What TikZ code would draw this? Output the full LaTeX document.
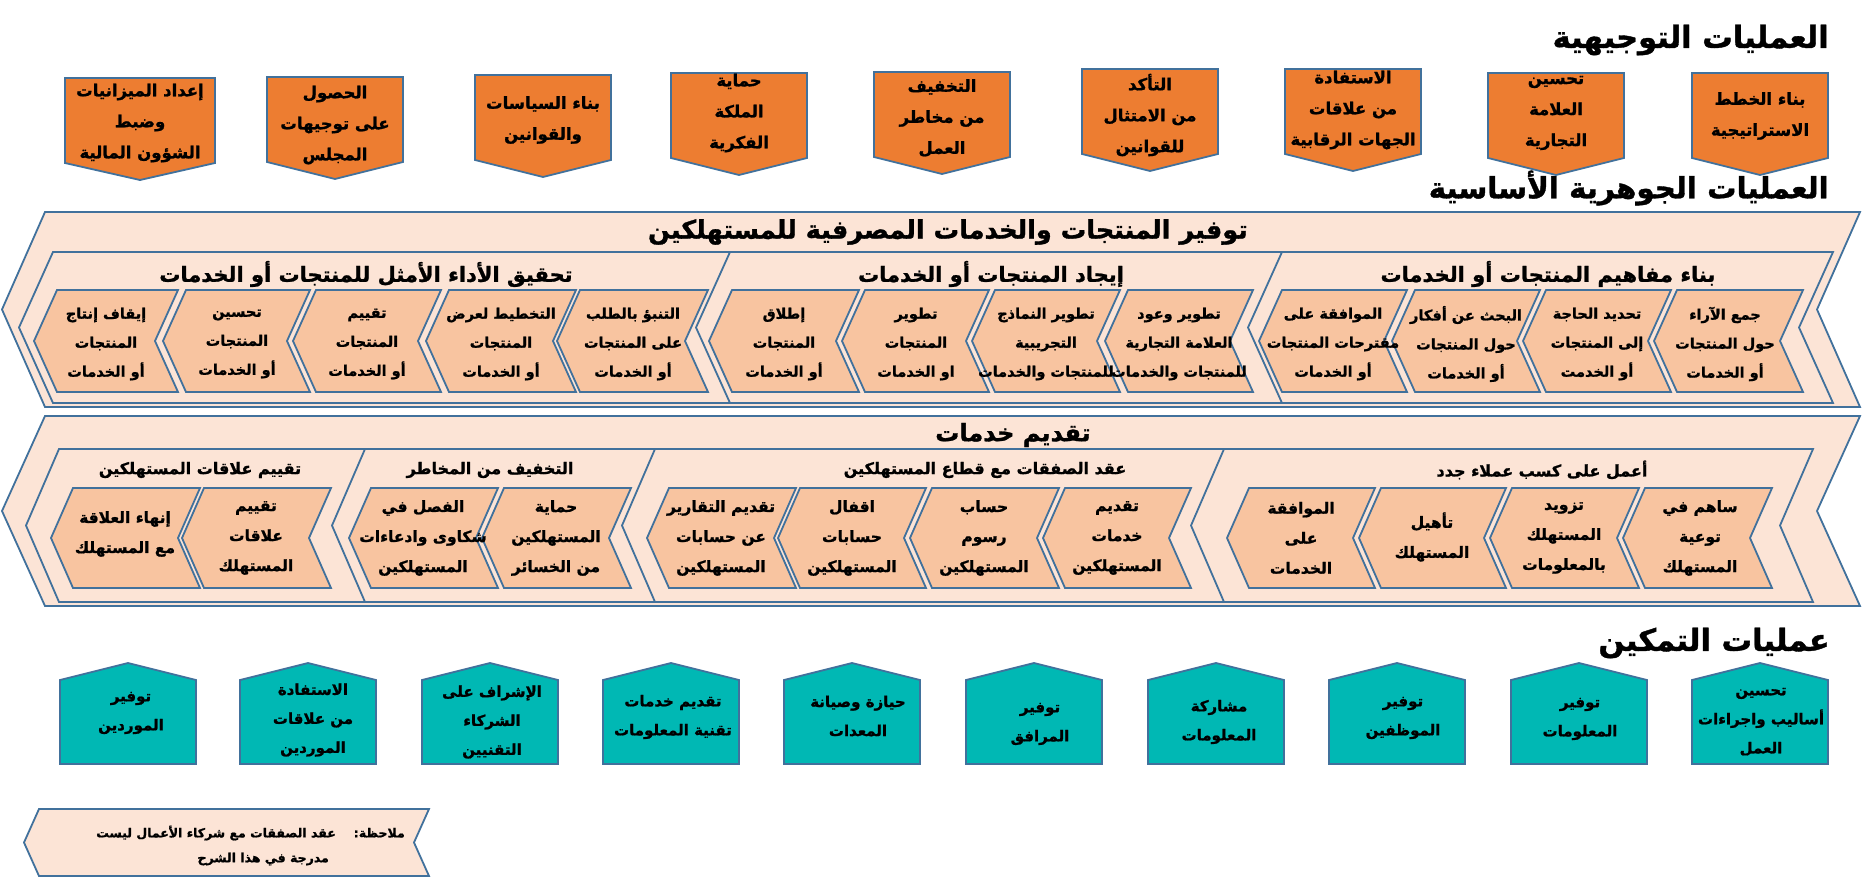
\documentclass[tikz,border=0pt]{standalone}
\usepackage{fontspec}
\newfontfamily\arabicfont[Script=Arabic,BoldFeatures={FakeBold=1.2}]{DejaVu Sans}
\TeXXeTstate=1
\newcommand\AR[1]{{\arabicfont\bfseries\beginR #1\endR}}
\definecolor{bord}{RGB}{65,113,156}
\definecolor{orng}{RGB}{237,125,49}
\definecolor{lpeach}{RGB}{252,228,214}
\definecolor{peach}{RGB}{248,196,160}
\definecolor{tealbox}{RGB}{0,184,180}
% chevron: style, xTL, xTR, ytop, ybot, depth
\newcommand\chev[6]{\path[#1] (#2,#4) -- (#3,#4) -- ({#3-#6},{(#4+#5)/2}) -- (#3,#5) -- (#2,#5) -- ({#2-#6},{(#4+#5)/2}) -- cycle;}
% down pentagon: style, cx, halfwidth, ytop
\newcommand\downbox[4]{\path[#1] ({#2-#3},#4) -- ({#2+#3},#4) -- ({#2+#3},{#4+85}) -- (#2,{#4+102}) -- ({#2-#3},{#4+85}) -- cycle;}
% up pentagon: style, cx
\newcommand\upbox[2]{\path[#1] ({#2-68},764) -- ({#2-68},680) -- (#2,663) -- ({#2+68},680) -- ({#2+68},764) -- cycle;}
\begin{document}
\begin{tikzpicture}[x=1pt,y=-1pt,
  outer/.style={draw=bord,line width=1.8pt,fill=lpeach,line join=miter},
  inner/.style={draw=bord,line width=1.8pt,fill=peach,line join=miter},
  topbox/.style={draw=bord,line width=1.8pt,fill=orng,line join=miter},
  tealb/.style={draw=bord,line width=1.8pt,fill=tealbox,line join=miter},
  bigtitle/.style={inner sep=0pt,font=\fontsize{30.5}{36}\selectfont},
  midtitle/.style={inner sep=0pt,font=\fontsize{29.3}{35}\selectfont},
  maintitle/.style={inner sep=0pt,font=\fontsize{25.5}{30}\selectfont},
  rowtitle/.style={inner sep=0pt,font=\fontsize{24}{30}\selectfont},
  subtitle/.style={inner sep=0pt,font=\fontsize{21}{26}\selectfont},
  smalltitle/.style={inner sep=0pt,font=\fontsize{16}{20}\selectfont},
  toptxt/.style={align=center,inner sep=0pt,font=\fontsize{16.5}{31}\selectfont},
  boxtxt/.style={align=center,inner sep=0pt,font=\fontsize{14.5}{29}\selectfont},
  boxtxtb/.style={align=center,inner sep=0pt,font=\fontsize{15.5}{30}\selectfont},
  tealtxt/.style={align=center,inner sep=0pt,font=\fontsize{15}{29}\selectfont},
  notetxt/.style={inner sep=0pt,font=\fontsize{12.5}{16}\selectfont}]
\useasboundingbox (0,0) rectangle (1862,883);
\fill[white] (0,0) rectangle (1862,883);

% ---------- titles ----------
\node[bigtitle,anchor=east] (t1) at (1829,40) {\AR{العمليات التوجيهية}};
\node[midtitle,anchor=east] (t2) at (1829,188) {\AR{العمليات الجوهرية الأساسية}};
\node[bigtitle,anchor=east] (t3) at (1830,643) {\AR{عمليات التمكين}};

% ---------- top orange boxes ----------
\downbox{topbox}{140}{75}{78}
\downbox{topbox}{335}{68}{77}
\downbox{topbox}{543}{68}{75}
\downbox{topbox}{739}{68}{73}
\downbox{topbox}{942}{68}{72}
\downbox{topbox}{1150}{68}{69}
\downbox{topbox}{1353}{68}{69}
\downbox{topbox}{1556}{68}{73}
\downbox{topbox}{1760}{68}{73}
\node[toptxt] (ob1) at (140,123) {\AR{إعداد الميزانيات}\\\AR{وضبط}\\\AR{الشؤون المالية}};
\node[toptxt] (ob2) at (335,125) {\AR{الحصول}\\\AR{على توجيهات}\\\AR{المجلس}};
\node[toptxt] (ob3) at (543,120) {\AR{بناء السياسات}\\\AR{والقوانين}};
\node[toptxt] (ob4) at (739,113) {\AR{حماية}\\\AR{الملكة}\\\AR{الفكرية}};
\node[toptxt] (ob5) at (942,118) {\AR{التخفيف}\\\AR{من مخاطر}\\\AR{العمل}};
\node[toptxt] (ob6) at (1150,115) {\AR{التأكد}\\\AR{من الامتثال}\\\AR{للقوانين}};
\node[toptxt] (ob7) at (1353,110) {\AR{الاستفادة}\\\AR{من علاقات}\\\AR{الجهات الرقابية}};
\node[toptxt] (ob8) at (1556,113) {\AR{تحسين}\\\AR{العلامة}\\\AR{التجارية}};
\node[toptxt] (ob9) at (1760,116) {\AR{بناء الخطط}\\\AR{الاستراتيجية}};

% ---------- row 1 ----------
\chev{outer}{45}{1860}{212}{407}{43}
\node[maintitle] (r1main) at (948,232) {\AR{توفير المنتجات والخدمات المصرفية للمستهلكين}};
\chev{outer}{53}{760}{252}{403}{34}
\chev{outer}{730}{1310}{252}{403}{34}
\chev{outer}{1282}{1833}{252}{403}{34}
\node[subtitle] (r1s3) at (366,274) {\AR{تحقيق الأداء الأمثل للمنتجات أو الخدمات}};
\node[subtitle] (r1s2) at (991,274) {\AR{إيجاد المنتجات أو الخدمات}};
\node[subtitle] (r1s1) at (1548,274) {\AR{بناء مفاهيم المنتجات أو الخدمات}};
\foreach \a/\b in {57/178,186/310,316/441,449/576,580/708,732/859,865/989,995/1120,1128/1253,1282/1407,1415/1540,1546/1671,1677/1803}
  {\chev{inner}{\a}{\b}{290}{392}{23}}
\node[boxtxt] (r1m) at (106,344) {\AR{إيقاف إنتاج}\\\AR{المنتجات}\\\AR{أو الخدمات}};
\node[boxtxt] (r1l) at (237,344) {\AR{تحسين}\\\AR{المنتجات}\\\AR{أو الخدمات}};
\node[boxtxt] (r1k) at (367,344) {\AR{تقييم}\\\AR{المنتجات}\\\AR{أو الخدمات}};
\node[boxtxt] (r1j) at (501,344) {\AR{التخطيط لعرض}\\\AR{المنتجات}\\\AR{أو الخدمات}};
\node[boxtxt] (r1i) at (633,344) {\AR{التنبؤ بالطلب}\\\AR{على المنتجات}\\\AR{أو الخدمات}};
\node[boxtxt] (r1h) at (784,344) {\AR{إطلاق}\\\AR{المنتجات}\\\AR{أو الخدمات}};
\node[boxtxt] (r1g) at (916,344) {\AR{تطوير}\\\AR{المنتجات}\\\AR{او الخدمات}};
\node[boxtxt] (r1f) at (1046,344) {\AR{تطوير النماذج}\\\AR{التجريبية}\\\AR{للمنتجات والخدمات}};
\node[boxtxt] (r1e) at (1179,344) {\AR{تطوير وعود}\\\AR{العلامة التجارية}\\\AR{للمنتجات والخدمات}};
\node[boxtxt] (r1d) at (1333,344) {\AR{الموافقة على}\\\AR{مقترحات المنتجات}\\\AR{أو الخدمات}};
\node[boxtxt] (r1c) at (1466,344) {\AR{البحث عن أفكار}\\\AR{حول المنتجات}\\\AR{أو الخدمات}};
\node[boxtxt] (r1b) at (1597,344) {\AR{تحديد الحاجة}\\\AR{إلى المنتجات}\\\AR{أو الخدمت}};
\node[boxtxt] (r1a) at (1725,344) {\AR{جمع الآراء}\\\AR{حول المنتجات}\\\AR{أو الخدمات}};

% ---------- row 2 ----------
\chev{outer}{45}{1860}{416}{606}{43}
\node[rowtitle] (r2main) at (1013,435) {\AR{تقديم خدمات}};
\chev{outer}{59}{395}{449}{602}{33}
\chev{outer}{365}{685}{449}{602}{33}
\chev{outer}{655}{1254}{449}{602}{33}
\chev{outer}{1224}{1813}{449}{602}{33}
\node[smalltitle] (r2s4) at (200,470) {\AR{تقييم علاقات المستهلكين}};
\node[smalltitle] (r2s3) at (490,470) {\AR{التخفيف من المخاطر}};
\node[smalltitle] (r2s2) at (985,470) {\AR{عقد الصفقات مع قطاع المستهلكين}};
\node[smalltitle] (r2s1) at (1542,470) {\AR{أعمل على كسب عملاء جدد}};
\foreach \a/\b in {73/200,204/331,371/498,504/631,669/796,800/926,932/1059,1065/1191,1249/1375,1381/1506,1512/1639,1645/1772}
  {\chev{inner}{\a}{\b}{488}{588}{22}}
\node[boxtxtb] (r2l) at (125,534) {\AR{إنهاء العلاقة}\\\AR{مع المستهلك}};
\node[boxtxtb] (r2k) at (256,538) {\AR{تقييم}\\\AR{علاقات}\\\AR{المستهلك}};
\node[boxtxtb] (r2j) at (423,538) {\AR{الفصل في}\\\AR{شكاوى وادعاءات}\\\AR{المستهلكين}};
\node[boxtxtb] (r2i) at (556,538) {\AR{حماية}\\\AR{المستهلكين}\\\AR{من الخسائر}};
\node[boxtxtb] (r2h) at (721,538) {\AR{تقديم التقارير}\\\AR{عن حسابات}\\\AR{المستهلكين}};
\node[boxtxtb] (r2g) at (852,538) {\AR{اقفال}\\\AR{حسابات}\\\AR{المستهلكين}};
\node[boxtxtb] (r2f) at (984,538) {\AR{حساب}\\\AR{رسوم}\\\AR{المستهلكين}};
\node[boxtxtb] (r2e) at (1117,538) {\AR{تقديم}\\\AR{خدمات}\\\AR{المستهلكين}};
\node[boxtxtb] (r2d) at (1301,538) {\AR{الموافقة}\\\AR{على}\\\AR{الخدمات}};
\node[boxtxtb] (r2c) at (1432,537) {\AR{تأهيل}\\\AR{المستهلك}};
\node[boxtxtb] (r2b) at (1564,538) {\AR{تزويد}\\\AR{المستهلك}\\\AR{بالمعلومات}};
\node[boxtxtb] (r2a) at (1700,538) {\AR{ساهم في}\\\AR{توعية}\\\AR{المستهلك}};

% ---------- bottom teal boxes ----------
\foreach \c in {128,308,490,671,852,1034,1216,1397,1579,1760} {\upbox{tealb}{\c}}
\node[tealtxt] (tb1) at (131,713) {\AR{توفير}\\\AR{الموردين}};
\node[tealtxt] (tb2) at (313,720) {\AR{الاستفادة}\\\AR{من علاقات}\\\AR{الموردين}};
\node[tealtxt] (tb3) at (492,722) {\AR{الإشراف على}\\\AR{الشركاء}\\\AR{التقنيين}};
\node[tealtxt] (tb4) at (673,717) {\AR{تقديم خدمات}\\\AR{تقنية المعلومات}};
\node[tealtxt] (tb5) at (858,716) {\AR{حيازة وصيانة}\\\AR{المعدات}};
\node[tealtxt] (tb6) at (1040,724) {\AR{توفير}\\\AR{المرافق}};
\node[tealtxt] (tb7) at (1219,722) {\AR{مشاركة}\\\AR{المعلومات}};
\node[tealtxt] (tb8) at (1403,718) {\AR{توفير}\\\AR{الموظفين}};
\node[tealtxt] (tb9) at (1580,719) {\AR{توفير}\\\AR{المعلومات}};
\node[tealtxt] (tb10) at (1761,722) {\AR{تحسين}\\\AR{أساليب واجراءات}\\\AR{العمل}};

% ---------- note ----------
\chev{outer}{39}{429}{809}{876}{15}
\node[notetxt,anchor=east] (note1) at (405,833) {\AR{ملاحظة:\hspace{18pt}عقد الصفقات مع شركاء الأعمال ليست}};
\node[notetxt,anchor=east] (note2) at (329,859) {\AR{مدرجة في هذا الشرح}};
\end{tikzpicture}
\end{document}
